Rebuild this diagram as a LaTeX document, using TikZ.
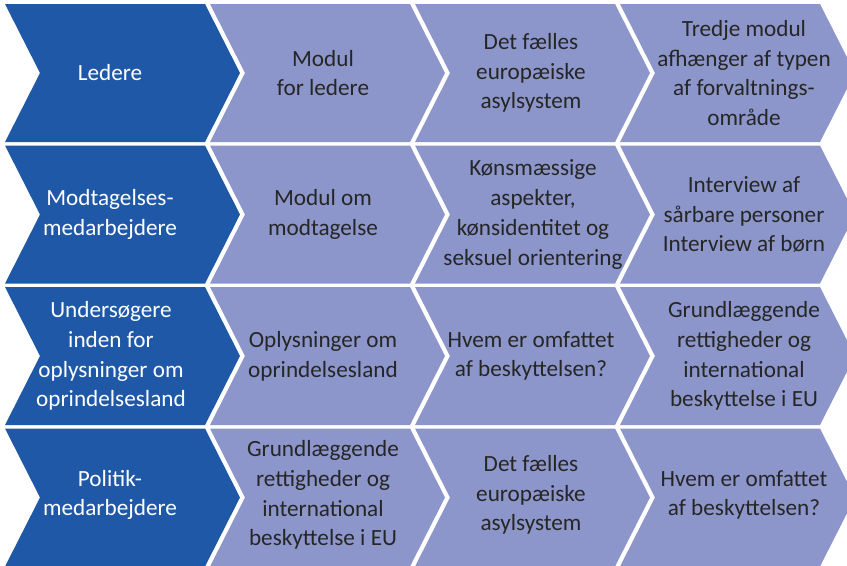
\documentclass[tikz,border=0pt]{standalone}
\usepackage{fontspec}
\setmainfont{Carlito}
\definecolor{chevdark}{HTML}{2058A8}
\definecolor{chevlight}{HTML}{8C96CA}
\definecolor{chevtext}{HTML}{262626}
\tikzset{
  role/.style={text=white,align=center,font=\fontsize{17.4}{22.3}\selectfont},
  topic/.style={text=chevtext,align=center,font=\fontsize{17.4}{22.3}\selectfont},
}
\begin{document}
\begin{tikzpicture}[x=0.75pt,y=-0.75pt]
\useasboundingbox (0,0) rectangle (847,565);
% chevrons
\foreach \r in {0,...,3}{
  \foreach \c in {0,...,3}{
    \pgfmathsetmacro\xa{5+205*\c}
    \pgfmathsetmacro\ya{4+141.5*\r}
    \ifnum\c=0 \def\fc{chevdark}\else\def\fc{chevlight}\fi
    \fill[\fc] (\xa,\ya) -- ++(200,0) -- ++(35,69) -- ++(-35,69) -- ++(-200,0) -- ++(35,-69) -- cycle;
  }
}
% row 1
\node[role]  (r1c0) at (110,73) {Ledere};
\node[topic] (r1c1) at (323,73) {Modul\\for ledere};
\node[topic] (r1c2) at (531,73) {Det fælles\\europæiske\\asylsystem};
\node[topic] (r1c3) at (744,73) {Tredje modul\\afhænger af typen\\af forvaltnings-\\område};
% row 2
\node[role]  (r2c0) at (110,214.5) {Modtagelses-\\medarbejdere};
\node[topic] (r2c1) at (323,214.5) {Modul om\\modtagelse};
\node[topic] (r2c2) at (533,214.5) {Kønsmæssige\\aspekter,\\kønsidentitet og\\seksuel orientering};
\node[topic] (r2c3) at (744,214.5) {Interview af\\sårbare personer\\Interview af børn};
% row 3
\node[role]  (r3c0) at (111,356) {Undersøgere\\inden for\\oplysninger om\\oprindelsesland};
\node[topic] (r3c1) at (323,356) {Oplysninger om\\oprindelsesland};
\node[topic] (r3c2) at (531,356) {Hvem er omfattet\\af beskyttelsen?};
\node[topic] (r3c3) at (744,356) {Grundlæggende\\rettigheder og\\international\\beskyttelse i EU};
% row 4
\node[role]  (r4c0) at (110,495) {Politik-\\medarbejdere};
\node[topic] (r4c1) at (323,495) {Grundlæggende\\rettigheder og\\international\\beskyttelse i EU};
\node[topic] (r4c2) at (531,495) {Det fælles\\europæiske\\asylsystem};
\node[topic] (r4c3) at (744,495) {Hvem er omfattet\\af beskyttelsen?};
\end{tikzpicture}
\end{document}
